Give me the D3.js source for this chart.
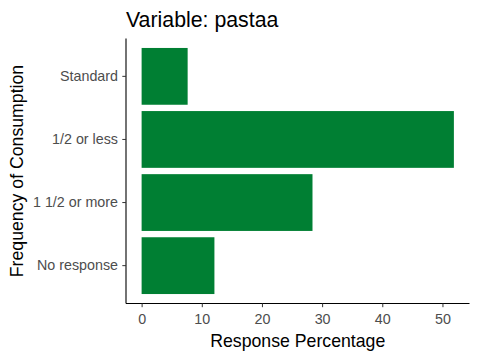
<!DOCTYPE html>
<html>
<head>
<meta charset="utf-8">
<script src="https://cdn.jsdelivr.net/npm/d3@7"></script>
<style>
  body { margin: 0; background: white; }
  text { font-family: "Liberation Sans", Arial, sans-serif; }
</style>
</head>
<body>
<div id="container"></div>
<script>
let w = 480;
let h = 360;

// data
let categories = ["Standard", "1/2 or less", "1 1/2 or more", "No response"];
let percentages = [7.65, 51.9, 28.4, 12.1];
let xTicks = [0, 10, 20, 30, 40, 50];

// panel edges (window.top is taken, so prefix them)
let panelLeft = 126, panelRight = 469.5, panelTop = 38.5, panelBottom = 303.5;

let viz = d3.select("#container").append("svg")
  .attr("width", w)
  .attr("height", h)
  .style("background-color", "white");

let maxVal = d3.max(percentages);
let xScale = d3.scaleLinear()
  .domain([-0.05 * maxVal, 1.05 * maxVal])
  .range([panelLeft, panelRight]);

let yScale = d3.scaleBand()
  .domain(categories)
  .range([panelTop, panelBottom])
  .paddingInner(0.1)
  .paddingOuter(0.15);

// bars
viz.selectAll(".bar").data(categories).enter()
  .append("rect")
  .attr("class", "bar")
  .attr("x", xScale(0))
  .attr("y", d => yScale(d))
  .attr("width", (d, i) => xScale(percentages[i]) - xScale(0))
  .attr("height", yScale.bandwidth())
  .attr("fill", "#007F33");

// x axis
let xAxis = viz.append("g")
  .attr("transform", "translate(0," + panelBottom + ")")
  .call(d3.axisBottom(xScale).tickValues(xTicks).tickSizeOuter(0).tickSize(3.7).tickPadding(6.5));
xAxis.select(".domain").attr("stroke", "black").attr("stroke-width", 1.1)
  .attr("d", "M" + panelLeft + ",0H" + panelRight);
xAxis.selectAll(".tick line").attr("stroke", "#333333");
xAxis.selectAll(".tick text").attr("fill", "#4D4D4D").style("font-size", "14.3px");

// y axis
let yAxis = viz.append("g")
  .attr("transform", "translate(" + panelLeft + ",0)")
  .call(d3.axisLeft(yScale).tickSizeOuter(0).tickSize(3.7).tickPadding(4.3));
yAxis.select(".domain").attr("stroke", "black").attr("stroke-width", 1.1)
  .attr("d", "M0," + panelTop + "V" + panelBottom);
yAxis.selectAll(".tick line").attr("stroke", "#333333");
yAxis.selectAll(".tick text").attr("fill", "#4D4D4D").style("font-size", "14.3px");

// titles
viz.append("text")
  .attr("x", panelLeft)
  .attr("y", 27)
  .style("font-size", "21.3px")
  .attr("fill", "black")
  .text("Variable: pastaa");

viz.append("text")
  .attr("x", (panelLeft + panelRight) / 2)
  .attr("y", 347.3)
  .attr("text-anchor", "middle")
  .style("font-size", "17.7px")
  .attr("fill", "black")
  .text("Response Percentage");

viz.append("text")
  .attr("transform", "translate(23.3," + (panelTop + panelBottom) / 2 + ") rotate(-90)")
  .attr("text-anchor", "middle")
  .style("font-size", "17.7px")
  .attr("fill", "black")
  .text("Frequency of Consumption");
</script>
</body>
</html>
